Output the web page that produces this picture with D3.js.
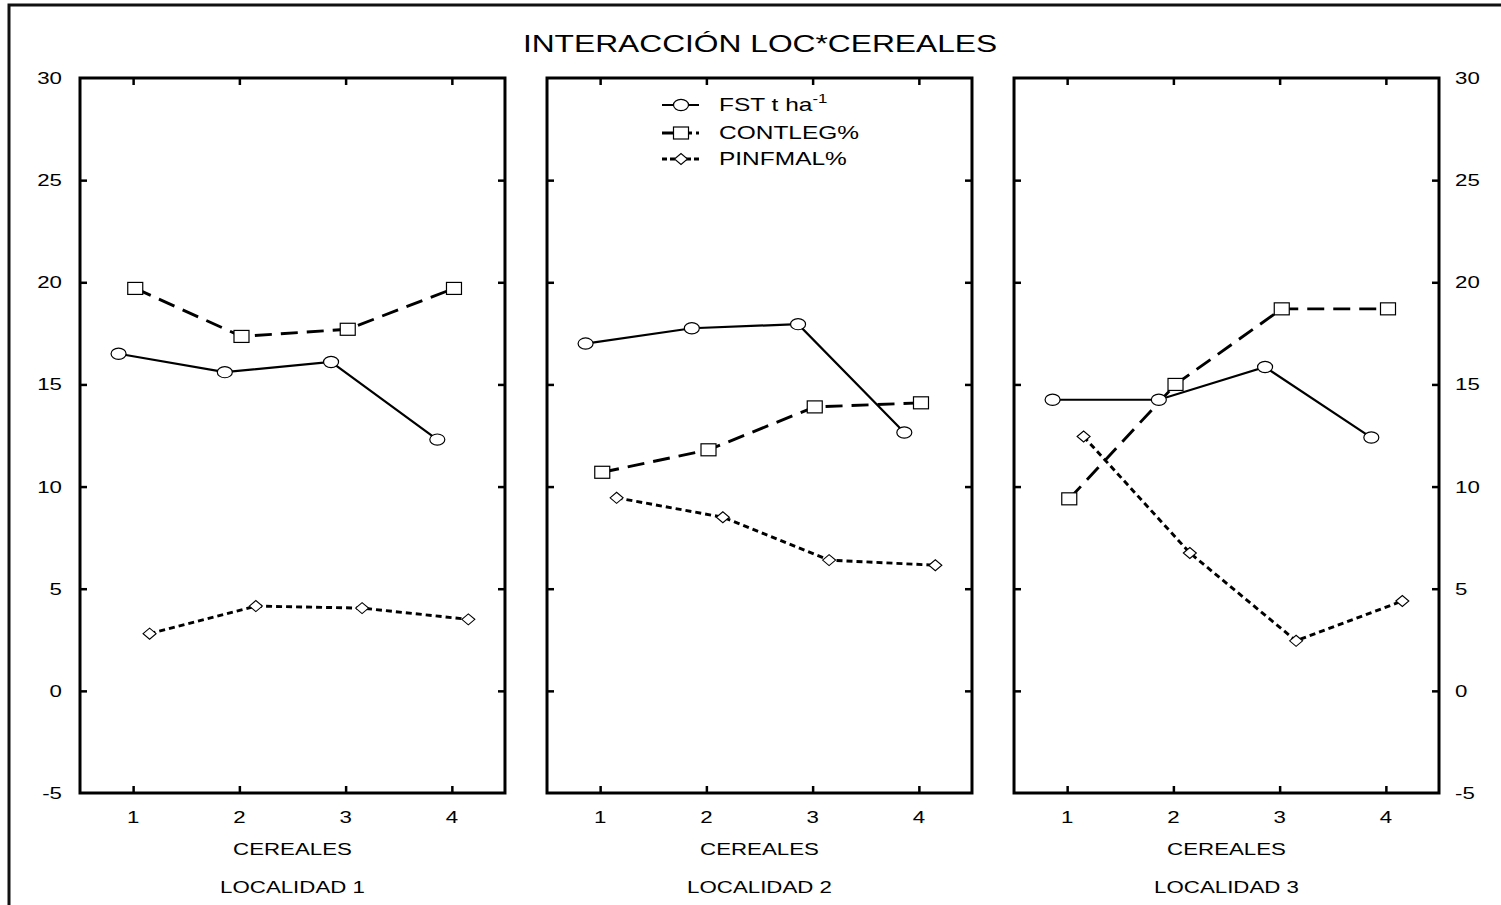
<!DOCTYPE html>
<html>
<head>
<meta charset="utf-8">
<script src="https://cdn.jsdelivr.net/npm/d3@7"></script>
<style>
  html, body { margin: 0; padding: 0; background: #fff; }
  svg { display: block; }
  text { font-family: "Liberation Sans", Arial, sans-serif; fill: #000; }
</style>
</head>
<body>
<svg id="chart" width="1501" height="905"></svg>
<script>
// Cereal levels on the x axis, one panel per locality
const cereales = [1, 2, 3, 4];
const localidades = ["LOCALIDAD 1", "LOCALIDAD 2", "LOCALIDAD 3"];

// Means per locality (rows) and cereal (columns)
const fst     = [[16.5, 15.6, 16.1, 12.3], [17.0, 17.75, 17.95, 12.65], [14.25, 14.25, 15.85, 12.4]];
const contleg = [[19.7, 17.35, 17.7, 19.7], [10.7, 11.8, 13.9, 14.1], [9.4, 15.0, 18.7, 18.7]];
const pinfmal = [[2.8, 4.15, 4.05, 3.5], [9.45, 8.5, 6.4, 6.15], [12.45, 6.75, 2.45, 4.4]];

const yTicks = [-5, 0, 5, 10, 15, 20, 25, 30];
const seriesNames = ["FST t ha", "CONTLEG%", "PINFMAL%"];

(function () {
const svg = d3.select("#chart");
const plotTop = 78, plotBottom = 793;
const sx = 1.35; // horizontal text stretch

// Outer frame (right and bottom edges run off the canvas)
svg.append("rect")
  .attr("x", 9).attr("y", 5).attr("width", 1600).attr("height", 1000)
  .attr("fill", "none").attr("stroke", "#111").attr("stroke-width", 3);

function label(g, x, y, text, anchor, size, stretch) {
  return g.append("text")
    .attr("transform", `translate(${x},${y}) scale(${stretch},1)`)
    .attr("text-anchor", anchor)
    .attr("font-size", size)
    .text(text);
}

// Title
label(svg, 760, 52, "INTERACCIÓN LOC*CEREALES", "middle", 23, 1.38);

const panel = d3.scaleBand().domain(localidades).range([80, 1439]).paddingInner(0.09).paddingOuter(0);
const y = d3.scaleLinear().domain([-5, 30]).range([plotBottom, plotTop]);

const series = [
  { data: fst,     offset: -0.137, dash: null,   legendDash: null,   width: 2.2, marker: "circle" },
  { data: contleg, offset: 0.02,   dash: "17,9", legendDash: "13,4", width: 2.9, marker: "square" },
  { data: pinfmal, offset: 0.155,  dash: "6,4",  legendDash: "5,3",  width: 2.9, marker: "diamond" }
];

function drawMarker(g, kind, cx, cy) {
  if (kind === "circle") {
    g.append("ellipse").attr("cx", cx).attr("cy", cy).attr("rx", 7.5).attr("ry", 5.6)
      .attr("fill", "#fff").attr("stroke", "#000").attr("stroke-width", 1.2);
  } else if (kind === "square") {
    g.append("rect").attr("x", cx - 7.5).attr("y", cy - 6).attr("width", 15).attr("height", 12)
      .attr("fill", "#fff").attr("stroke", "#000").attr("stroke-width", 1.2);
  } else {
    g.append("path")
      .attr("d", `M${cx - 6.5},${cy} L${cx},${cy - 5.5} L${cx + 6.5},${cy} L${cx},${cy + 5.5} Z`)
      .attr("fill", "#fff").attr("stroke", "#000").attr("stroke-width", 1.1);
  }
}

localidades.forEach((loc, i) => {
  const x0 = panel(loc), w = panel.bandwidth();
  const x = d3.scaleLinear().domain([0.5, 4.5]).range([x0, x0 + w]);
  const g = svg.append("g");

  // Inward ticks on all four sides
  const tickStyle = sel => {
    sel.selectAll(".domain").remove();
    sel.selectAll(".tick line").attr("stroke", "#000").attr("stroke-width", 2.5);
    sel.selectAll(".tick text").remove();
  };
  g.append("g").attr("transform", `translate(0,${plotBottom})`)
    .call(d3.axisBottom(x).tickValues(cereales).tickSizeInner(-7).tickSizeOuter(0)).call(tickStyle);
  g.append("g").attr("transform", `translate(0,${plotTop})`)
    .call(d3.axisTop(x).tickValues(cereales).tickSizeInner(-7).tickSizeOuter(0)).call(tickStyle);
  g.append("g").attr("transform", `translate(${x0},0)`)
    .call(d3.axisLeft(y).tickValues(yTicks.slice(1, -1)).tickSizeInner(-7).tickSizeOuter(0)).call(tickStyle);
  g.append("g").attr("transform", `translate(${x0 + w},0)`)
    .call(d3.axisRight(y).tickValues(yTicks.slice(1, -1)).tickSizeInner(-7).tickSizeOuter(0)).call(tickStyle);

  // Panel frame
  g.append("rect").attr("x", x0).attr("y", plotTop).attr("width", w).attr("height", plotBottom - plotTop)
    .attr("fill", "none").attr("stroke", "#000").attr("stroke-width", 3);

  // X tick labels and titles
  cereales.forEach(c => label(g, x(c), 823, String(c), "middle", 16.5, sx));
  label(g, x0 + w / 2, 855, "CEREALES", "middle", 16.5, sx);
  label(g, x0 + w / 2, 893, loc, "middle", 16.5, sx);

  // Y tick labels on the outer panels
  if (i === 0) yTicks.forEach(t => label(g, x0 - 18, y(t) + 6, String(t), "end", 16.5, sx));
  if (i === localidades.length - 1) yTicks.forEach(t => label(g, x0 + w + 16, y(t) + 6, String(t), "start", 16.5, sx));

  // Series lines, then markers on top
  series.forEach(s => {
    const line = d3.line().x((v, j) => x(cereales[j] + s.offset)).y(v => y(v));
    g.append("path").attr("d", line(s.data[i]))
      .attr("fill", "none").attr("stroke", "#000").attr("stroke-width", s.width)
      .attr("stroke-dasharray", s.dash);
  });
  series.forEach(s => {
    s.data[i].forEach((v, j) => drawMarker(g, s.marker, x(cereales[j] + s.offset), y(v)));
  });
});

// Legend
const legend = svg.append("g");
const rows = [105, 133, 159];
series.forEach((s, k) => {
  legend.append("line").attr("x1", 662).attr("x2", 699).attr("y1", rows[k]).attr("y2", rows[k])
    .attr("stroke", "#000").attr("stroke-width", s.width)
    .attr("stroke-dasharray", s.legendDash);
  drawMarker(legend, s.marker, 681, rows[k]);
  const t = label(legend, 719, rows[k] + 6, seriesNames[k], "start", 17.5, 1.4);
  if (k === 0) {
    t.append("tspan").attr("font-size", 12).attr("dy", -8).text("-1");
  }
});
})();
</script>
</body>
</html>
